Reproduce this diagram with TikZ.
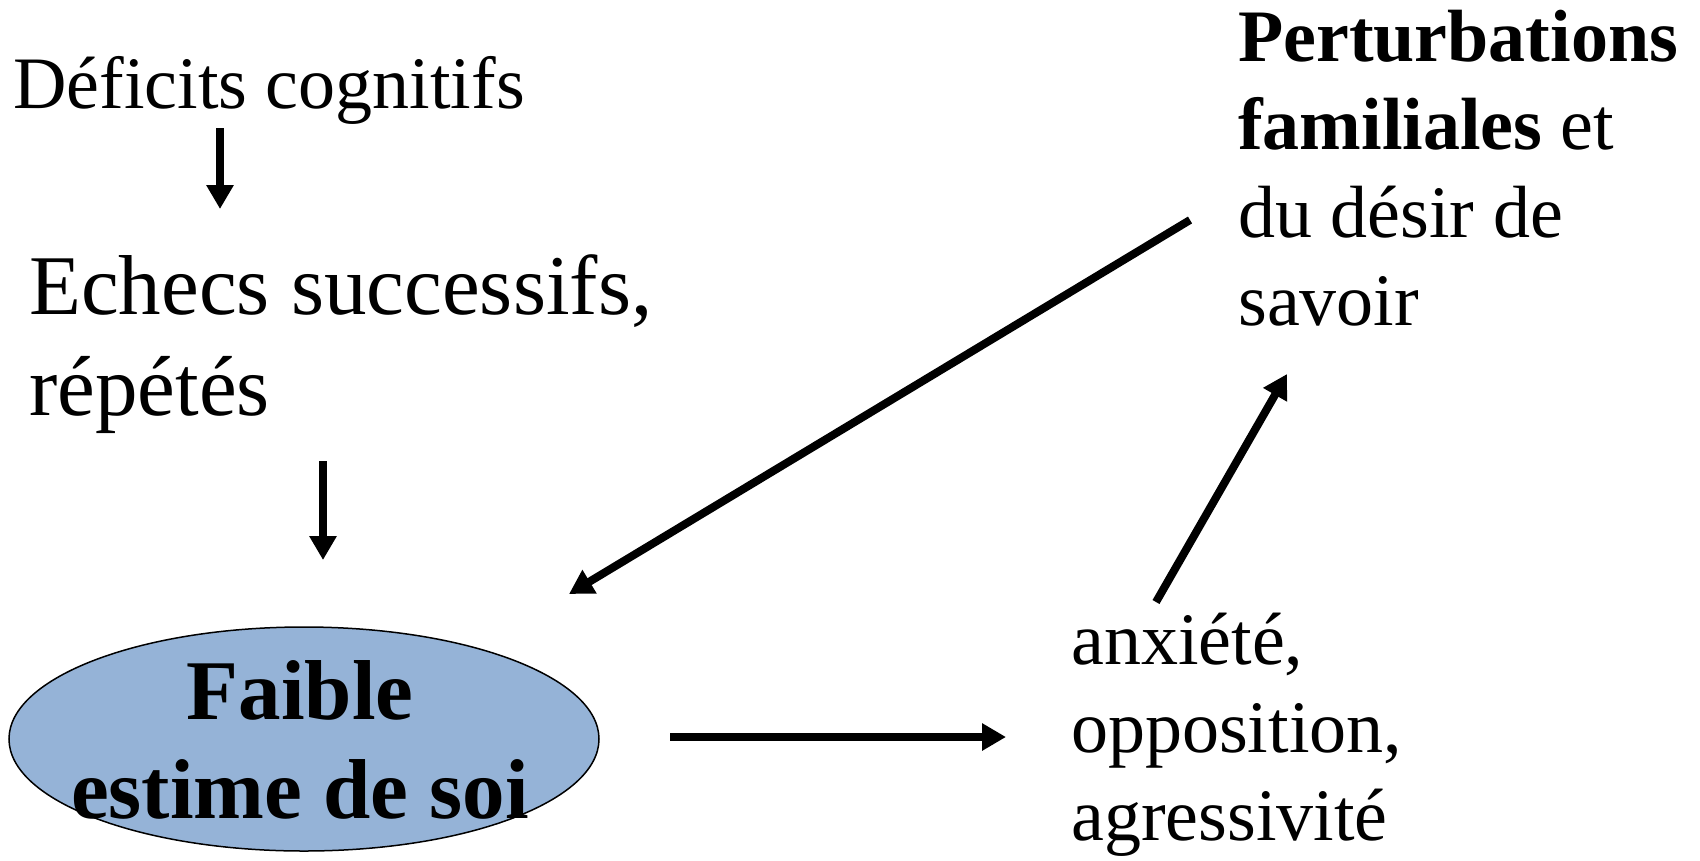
\documentclass[tikz,border=0pt]{standalone}
\usepackage{fontspec}
\setmainfont{Liberation Serif}
\usetikzlibrary{arrows.meta,shapes.geometric}
\definecolor{ovalblue}{RGB}{149,179,215}
\begin{document}
\begin{tikzpicture}[x=1pt,y=-1pt,
  txt/.style={inner sep=0pt, anchor=base west, align=left, font=\fontsize{74}{87.7}\selectfont},
  bigtxt/.style={inner sep=0pt, anchor=base west, align=left, font=\fontsize{85}{101}\selectfont},
  oval/.style={ellipse, draw=black, line width=1.5pt, fill=ovalblue, minimum width=590pt, minimum height=224pt, inner sep=0pt},
  ovaltxt/.style={inner sep=0pt, anchor=base, align=center, font=\bfseries\fontsize{85}{99}\selectfont},
  arr/.style={line width=8pt, -{Triangle[width=26pt,length=24pt]}}]
\useasboundingbox (0,0) rectangle (1700,860);
\node[txt] (def) at (13,108) {Déficits cognitifs};
\node[bigtxt] (ech) at (29,415) {Echecs successifs,\\répétés};
\node[oval] (fes) at (304,739) {};
\node[ovaltxt] (fest) at (300,818) {Faible\\estime de soi};
\node[txt] (anx) at (1071,840) {anxiété,\\opposition,\\agressivité};
\node[txt] (per) at (1238,325) {\textbf{Perturbations}\\\textbf{familiales} et\\du désir de\\savoir};
\coordinate (a1s) at (220,128);
\coordinate (a1e) at (220,209);
\coordinate (a2s) at (323,461);
\coordinate (a2e) at (323,560);
\coordinate (a3s) at (670,737);
\coordinate (a3e) at (1006,737);
\coordinate (a4s) at (1156,602);
\coordinate (a4e) at (1287,374);
\coordinate (a5s) at (1190,220);
\coordinate (a5e) at (569,594);
\draw[arr] (a1s) -- (a1e);
\draw[arr] (a2s) -- (a2e);
\draw[arr] (a3s) -- (a3e);
\draw[arr] (a4s) -- (a4e);
\draw[arr] (a5s) -- (a5e);
\end{tikzpicture}
\end{document}
